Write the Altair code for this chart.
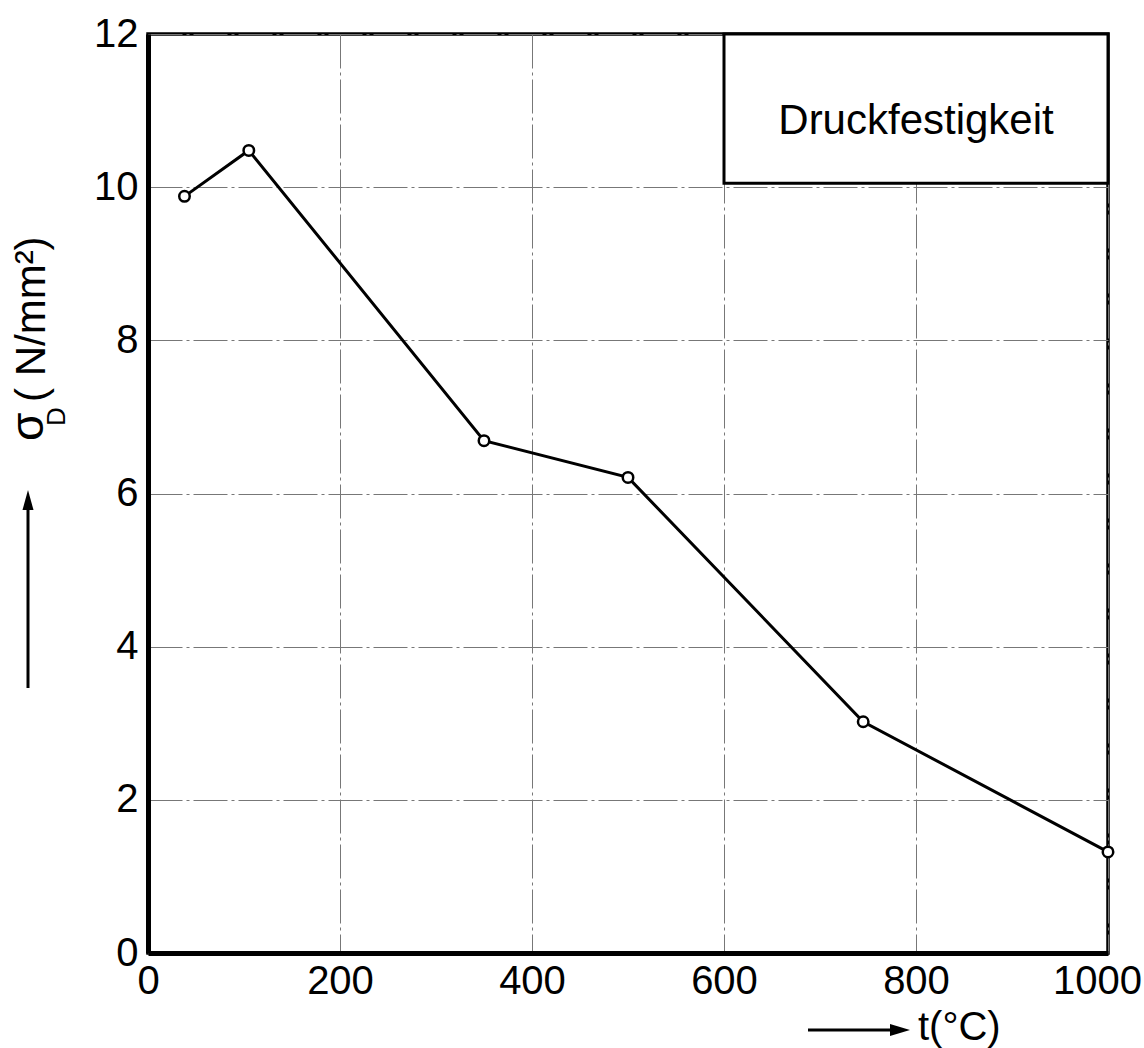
import altair as alt
import pandas as pd

# data
temperature = [38, 105, 350, 500, 745, 1000]
strength = [9.88, 10.48, 6.69, 6.21, 3.02, 1.32]
x_ticks = [0, 200, 400, 600, 800, 1000]
y_ticks = [0, 2, 4, 6, 8, 10, 12]
box_label = "Druckfestigkeit"

FONT = "Liberation Sans, Arial, sans-serif"

df = pd.DataFrame({"t": temperature, "s": strength})
box_df = pd.DataFrame({"x1": [600], "x2": [1000], "y1": [10.05], "y2": [12.0],
                       "xm": [800], "ym": [10.86], "label": [box_label]})
one = pd.DataFrame({"a": [0]})

xscale = alt.Scale(domain=[0, 1000], nice=False, zero=False)
yscale = alt.Scale(domain=[0, 12], nice=False, zero=False)

GRID = dict(grid=True, gridColor="#777777", gridWidth=1, gridDash=[34, 4, 3, 4])

xaxis = alt.Axis(
    values=x_ticks, title=None, ticks=False, labelFlush=False,
    domain=True, domainColor="black", domainWidth=5,
    labelFont=FONT, labelFontSize=40, labelColor="black", labelPadding=8,
    labelOffset={"condition": {"test": "datum.value == 1000", "value": -11}, "value": 0},
    format="d", **GRID,
)
yaxis = alt.Axis(
    values=y_ticks, title=None, ticks=False, labelFlush=False,
    domain=True, domainColor="black", domainWidth=5,
    labelFont=FONT, labelFontSize=40, labelColor="black", labelPadding=10,
    format="d", **GRID,
)

line = alt.Chart(df).mark_line(color="black", strokeWidth=3).encode(
    x=alt.X("t:Q", scale=xscale, axis=xaxis),
    y=alt.Y("s:Q", scale=yscale, axis=yaxis),
)
points = alt.Chart(df).mark_point(
    shape="circle", size=110, filled=True, fill="white", stroke="black",
    strokeWidth=2.5, opacity=1,
).encode(x=alt.X("t:Q", scale=xscale), y=alt.Y("s:Q", scale=yscale))

box = alt.Chart(box_df).mark_rect(fill="white", stroke="black", strokeWidth=3).encode(
    x=alt.X("x1:Q", scale=xscale), x2="x2:Q",
    y=alt.Y("y1:Q", scale=yscale), y2="y2:Q",
)
box_text = alt.Chart(box_df).mark_text(
    font=FONT, fontSize=42, color="black", align="center", baseline="middle",
).encode(x=alt.X("xm:Q", scale=xscale), y=alt.Y("ym:Q", scale=yscale), text="label:N")

# y axis title with arrow
y_arrow = alt.Chart(one).mark_rule(color="black", strokeWidth=3).encode(
    x=alt.value(-120), y=alt.value(654), y2=alt.value(474))
y_head = alt.Chart(one).mark_point(
    shape="M0,-1L0.55,1L-0.55,1Z", size=400, filled=True, color="black", opacity=1
).encode(x=alt.value(-120), y=alt.value(466))
sigma = alt.Chart(one).mark_text(
    text="σ", font=FONT, fontSize=46, angle=270, align="left", baseline="middle", color="black"
).encode(x=alt.value(-119), y=alt.value(407))
sub_d = alt.Chart(one).mark_text(
    text="D", font=FONT, fontSize=26, angle=270, align="left", baseline="middle", color="black"
).encode(x=alt.value(-91), y=alt.value(392))
unit = alt.Chart(one).mark_text(
    text="( N/mm²)", font=FONT, fontSize=42, angle=270, align="left", baseline="middle", color="black"
).encode(x=alt.value(-116), y=alt.value(368))

# x axis title with arrow
x_arrow = alt.Chart(one).mark_rule(color="black", strokeWidth=3).encode(
    x=alt.value(660), x2=alt.value(745), y=alt.value(996))
x_head = alt.Chart(one).mark_point(
    shape="M1,0L-1,-0.6L-1,0.6Z", size=400, filled=True, color="black", opacity=1
).encode(x=alt.value(752), y=alt.value(996))
x_title = alt.Chart(one).mark_text(
    text="t(°C)", font=FONT, fontSize=40, align="left", baseline="middle", color="black"
).encode(x=alt.value(770), y=alt.value(994))

chart = alt.layer(
    line, points, box, box_text,
    y_arrow, y_head, sigma, sub_d, unit,
    x_arrow, x_head, x_title,
).properties(
    width=960, height=919,
    autosize=alt.AutoSizeParams(type="none"),
    padding={"left": 148, "top": 34, "right": 36, "bottom": 95},
    background="white",
).configure_view(stroke="black", strokeWidth=3.5)

chart.save("out.html", embed_options={"renderer": "svg", "actions": False})
